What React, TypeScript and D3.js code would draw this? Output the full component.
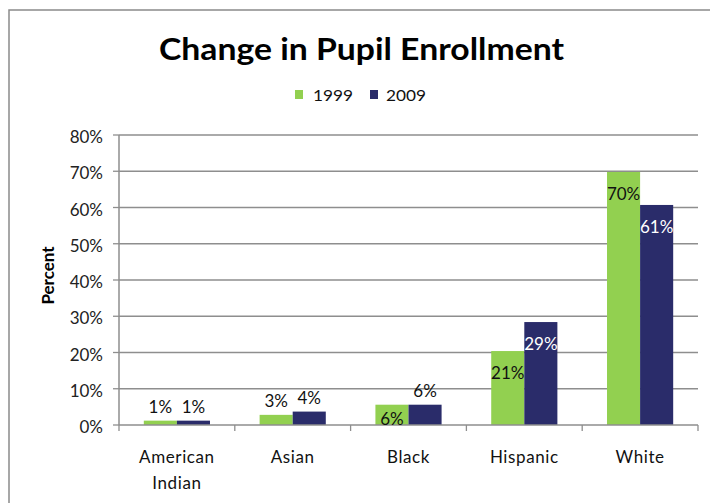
import React from "react";
import * as d3 from "d3";

const categories = ["American Indian", "Asian", "Black", "Hispanic", "White"];
const categoryLines = [["American", "Indian"], ["Asian"], ["Black"], ["Hispanic"], ["White"]];
const seriesNames = ["1999", "2009"];
const values1999 = [1.2, 2.8, 5.6, 20.4, 69.8];
const values2009 = [1.2, 3.7, 5.6, 28.4, 60.7];
const labels1999 = ["1%", "3%", "6%", "21%", "70%"];
const labels2009 = ["1%", "4%", "6%", "29%", "61%"];
const placement1999 = ["out", "out", "base", "in", "in"];
const placement2009 = ["out", "out", "out", "in", "in"];
const yTicks = [0, 10, 20, 30, 40, 50, 60, 70, 80];

const colors = ["#92D050", "#2A2C6A"];
const labelInColors = ["#111111", "#ffffff"];
const FONT = "Lato, 'Open Sans', sans-serif";

export default function App() {
  const W = 710, H = 503;
  const left = 119, right = 698, top = 135, bottom = 425;
  const x = d3.scaleBand<string>().domain(categories).range([left, right]).padding(0);
  const x1 = d3.scaleBand<string>().domain(seriesNames).range([0, x.bandwidth()]).paddingInner(0).paddingOuter(0.75);
  const y = d3.scaleLinear().domain([0, 80]).range([bottom, top]);

  const series = [
    { name: seriesNames[0], values: values1999, labels: labels1999, place: placement1999 },
    { name: seriesNames[1], values: values2009, labels: labels2009, place: placement2009 },
  ];
  const gridColor = "#8e8e8e";
  const boundaries = categories.map((c) => x(c)!).concat([right]);

  return (
    <svg width={W} height={H} style={{ position: "absolute", left: 0, top: 0 }}>
      <rect x={0} y={0} width={W} height={H} fill="#fff" />
      <rect x={9} y={10} width={W + 20} height={H + 20} fill="#fff" stroke="#8a8a8a" strokeWidth={1.5} />
      <text x={361.5} y={59.5} textAnchor="middle" fontFamily={FONT} fontWeight={700} fontSize={31}
        textLength={405} lengthAdjust="spacingAndGlyphs" fill="#000">Change in Pupil Enrollment</text>

      {/* legend */}
      <rect x={295} y={90} width={8} height={9} fill={colors[0]} />
      <text x={313} y={101} fontFamily={FONT} fontSize={16} textLength={40} lengthAdjust="spacingAndGlyphs" fill="#111">{seriesNames[0]}</text>
      <rect x={370} y={90} width={8} height={9} fill={colors[1]} />
      <text x={386} y={101} fontFamily={FONT} fontSize={16} textLength={40} lengthAdjust="spacingAndGlyphs" fill="#111">{seriesNames[1]}</text>

      {/* gridlines */}
      {yTicks.map((t) => (
        <g key={t}>
          {t > 0 && <line x1={left} x2={right} y1={y(t)} y2={y(t)} stroke={gridColor} strokeWidth={1.3} />}
          <line x1={113} x2={left} y1={y(t)} y2={y(t)} stroke={gridColor} strokeWidth={1.3} />
          <text x={103} y={y(t) + 8} textAnchor="end" fontFamily={FONT} fontSize={17} fill="#222">{t}%</text>
        </g>
      ))}

      {/* bars */}
      {series.map((s, si) => (
        <g key={s.name}>
          {categories.map((c, i) => {
            const bx = x(c)! + x1(s.name)!;
            const bw = x1.bandwidth();
            const by = y(s.values[i]);
            return <rect key={c} x={bx} y={by} width={bw} height={y(0) - by} fill={colors[si]} />;
          })}
        </g>
      ))}

      {/* axes */}
      <line x1={left} x2={left} y1={top} y2={bottom} stroke={gridColor} strokeWidth={1.5} />
      <line x1={left} x2={right} y1={bottom} y2={bottom} stroke={gridColor} strokeWidth={1.5} />
      {boundaries.map((b, i) => (
        <line key={i} x1={b} x2={b} y1={bottom} y2={bottom + 6} stroke={gridColor} strokeWidth={1.3} />
      ))}

      {/* data labels */}
      {series.map((s, si) => (
        <g key={"l" + s.name}>
          {categories.map((c, i) => {
            const cx = x(c)! + x1(s.name)! + x1.bandwidth() / 2;
            const by = y(s.values[i]);
            const p = s.place[i];
            let ly = by - 8;
            let fill = "#111";
            if (p === "in") { ly = by + 28; fill = labelInColors[si]; }
            if (p === "base") { ly = y(0); fill = "#111"; }
            return (
              <text key={c} x={cx} y={ly} textAnchor="middle" fontFamily={FONT} fontSize={17} fill={fill}>{s.labels[i]}</text>
            );
          })}
        </g>
      ))}

      {/* category labels */}
      {categories.map((c, i) => (
        <text key={c} x={x(c)! + x.bandwidth() / 2} textAnchor="middle" fontFamily={FONT} fontSize={17} letterSpacing={0.6} fill="#111">
          {categoryLines[i].map((ln, j) => (
            <tspan key={j} x={x(c)! + x.bandwidth() / 2} y={462.5 + j * 26}>{ln}</tspan>
          ))}
        </text>
      ))}

      {/* y axis title */}
      <text transform="translate(53.5,275.5) rotate(-90)" textAnchor="middle" fontFamily={FONT} fontWeight={700} fontSize={17} fill="#000">Percent</text>
    </svg>
  );
}
